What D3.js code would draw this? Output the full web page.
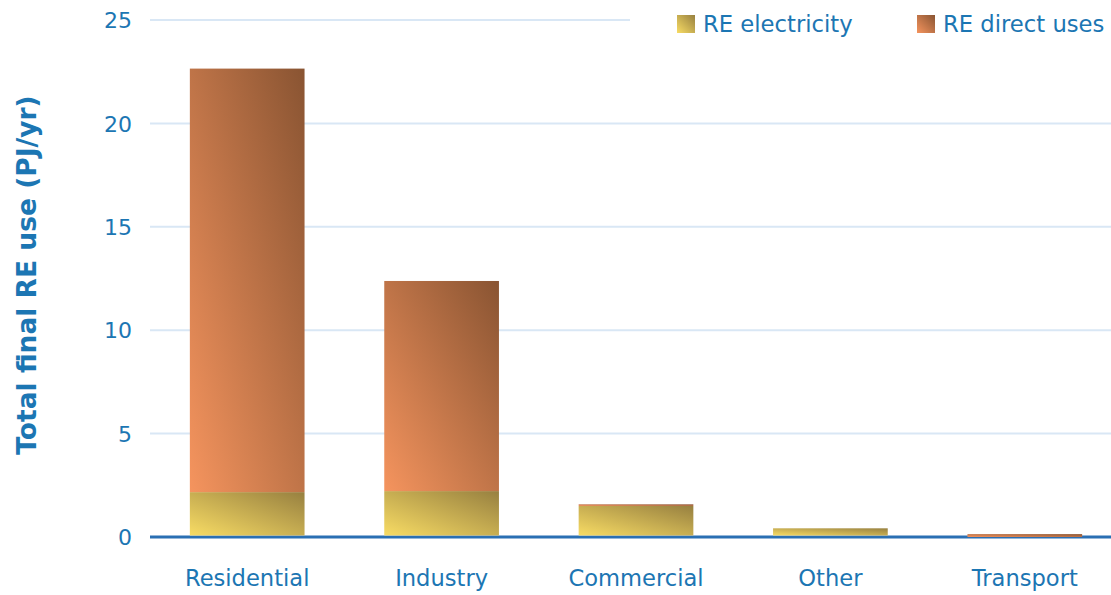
<!DOCTYPE html>
<html><head><meta charset="utf-8">
<script src="https://cdn.jsdelivr.net/npm/d3@7"></script>
<style>body{margin:0;background:#fff}svg{display:block}</style>
</head><body>
<script>
const categories = ["Residential","Industry","Commercial","Other","Transport"];
const reElectricity = [2.17, 2.22, 1.50, 0.42, 0.00];
const reDirectUses = [20.48, 10.16, 0.08, 0.00, 0.14];
const yTicks = [0,5,10,15,20,25];
const seriesNames = ["RE electricity","RE direct uses"];

const W = 1111, H = 595;
const svg = d3.select("body").append("svg").attr("width",W).attr("height",H);
const blue = "#1c76b3";
const font = "'DejaVu Sans', sans-serif";

const defs = svg.append("defs");
function grad(id, c1, c2){
  const g = defs.append("linearGradient").attr("id",id)
    .attr("x1",0).attr("y1",1).attr("x2",1).attr("y2",0);
  g.append("stop").attr("offset","0%").attr("stop-color",c1);
  g.append("stop").attr("offset","100%").attr("stop-color",c2);
}
grad("gElec","#f8dc64","#978040");
grad("gDir","#f5945e","#895432");

const x = d3.scaleBand().domain(categories).range([150,1122]).paddingInner(0.41).paddingOuter(0.205);
const y = d3.scaleLinear().domain([0,25]).range([537,20]);

// gridlines
svg.append("g").selectAll("line").data(yTicks.filter(d=>d>0)).join("line")
  .attr("x1",150).attr("x2",W).attr("y1",d=>y(d)).attr("y2",d=>y(d))
  .attr("stroke","#d9e7f5").attr("stroke-width",2);

// y axis labels
const yAxis = d3.axisLeft(y).tickValues(yTicks).tickSize(0).tickPadding(0);
const ya = svg.append("g").attr("transform","translate(132,0)").call(yAxis);
ya.select(".domain").remove();
ya.selectAll("text").attr("fill",blue).attr("font-size",22).attr("font-family",font).attr("dy","0.35em");

// axis title
svg.append("text").attr("transform","translate(36,275) rotate(-90)")
  .attr("text-anchor","middle").attr("fill",blue).attr("font-weight","bold")
  .attr("font-size",26.5).attr("font-family",font).text("Total final RE use (PJ/yr)");

// x axis
svg.append("line").attr("x1",150).attr("x2",W).attr("y1",y(0)).attr("y2",y(0))
  .attr("stroke","#2a6fb3").attr("stroke-width",3);

// stacked bars
const data = categories.map((c,i)=>({cat:c, e:reElectricity[i], d:reDirectUses[i]}));
const gBars = svg.append("g");
data.forEach(dd=>{
  const bx = x(dd.cat), bw = x.bandwidth();
  if(dd.e>0) gBars.append("rect").attr("x",bx).attr("width",bw)
    .attr("y",y(dd.e)).attr("height",y(0)-1.5-y(dd.e)).attr("fill","url(#gElec)");
  if(dd.d>0) gBars.append("rect").attr("x",bx).attr("width",bw)
    .attr("y",y(dd.e+dd.d)).attr("height",Math.max(1.5,y(dd.e)-y(dd.e+dd.d))).attr("fill","url(#gDir)");
});

const xAxis = d3.axisBottom(x).tickSize(0).tickPadding(0);
const xa = svg.append("g").attr("transform","translate(0,578)").call(xAxis);
xa.select(".domain").remove();
xa.selectAll("text").attr("fill",blue).attr("font-size",22.6).attr("font-family",font).attr("dy","0.35em");

// legend
const leg = svg.append("g");
leg.append("rect").attr("x",630).attr("y",0).attr("width",W-630).attr("height",45).attr("fill","#fff");
const lx = [677, 917];
seriesNames.forEach((n,i)=>{
  leg.append("rect").attr("x",lx[i]).attr("y",15).attr("width",18).attr("height",18)
    .attr("fill", i===0?"url(#gElec)":"url(#gDir)");
  leg.append("text").attr("x",lx[i]+26).attr("y",24).attr("dy","0.35em")
    .attr("fill",blue).attr("font-size",22.7).attr("font-family",font).text(n);
});
</script>
</body></html>
